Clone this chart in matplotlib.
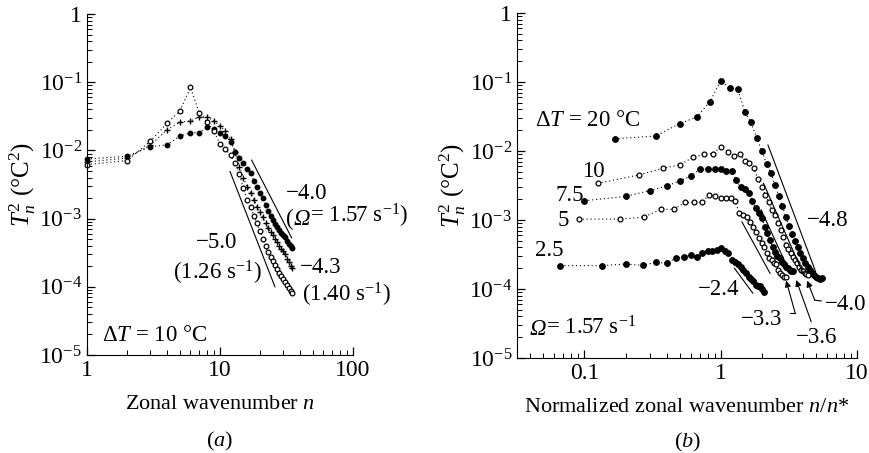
import matplotlib

matplotlib.use("Agg")
import matplotlib.pyplot as plt
import numpy as np
from matplotlib.ticker import LogLocator, NullFormatter

plt.rcParams["font.family"] = ["Liberation Serif", "DejaVu Serif"]
plt.rcParams["mathtext.fontset"] = "custom"
plt.rcParams["mathtext.rm"] = "Liberation Serif"
plt.rcParams["mathtext.it"] = "Liberation Serif:italic"
plt.rcParams["mathtext.bf"] = "Liberation Serif:bold"

# ---- panel (a): spectra vs zonal wavenumber, dT = 10 C ----
n_a = np.arange(1, 36)
a_omega157 = [0.0075, 0.0082, 0.0114, 0.012, 0.0163, 0.018, 0.0183, 0.022, 0.0205,
              0.018, 0.016, 0.0135, 0.0095, 0.0078, 0.0065, 0.0054, 0.0046, 0.0036,
              0.0029, 0.0024, 0.002, 0.0016, 0.0013, 0.0011, 0.00095, 0.00084,
              0.00076, 0.00069, 0.00062, 0.00057, 0.00053, 0.00047, 0.00043,
              0.0004, 0.00037]
a_omega140 = [0.0068, 0.0077, 0.012, 0.02, 0.026, 0.027, 0.031, 0.031, 0.027,
              0.0228, 0.019, 0.0146, 0.0095, 0.0058, 0.004, 0.0029, 0.0024, 0.0019,
              0.0015, 0.00126, 0.00105, 0.00085, 0.00073, 0.00064, 0.00057, 0.0005,
              0.00045, 0.0004, 0.00036, 0.00033, 0.0003, 0.00026, 0.00023, 0.0002,
              0.00019]
a_omega126 = [0.0062, 0.0071, 0.0137, 0.025, 0.038, 0.084, 0.035, 0.026, 0.019,
              0.0125, 0.0105, 0.0085, 0.0065, 0.0045, 0.0028, 0.0019, 0.0015, 0.0011,
              0.00085, 0.00065, 0.0005, 0.00039, 0.00032, 0.00027, 0.00024, 0.00021,
              0.00018, 0.00016, 0.000142, 0.00013, 0.000118, 0.000105, 0.000095,
              0.000087, 0.000082]

# fitted slope lines (x0, y0, x1, y1)
a_fit_lines = [(17.3, 7.2e-3, 34.6, 5.2e-4), (11.9, 4.9e-3, 25.9, 1.0e-4)]

# ---- panel (b): spectra vs normalized wavenumber, Omega = 1.57 ----
b_delta_t = ["20", "10", "7.5", "5", "2.5"]
b_n_star = [6, 8, 10, 11, 15]
b_filled = [True, False, True, False, True]
b_spectra = [
    [0.015, 0.0165, 0.025, 0.031, 0.052, 0.105, 0.081, 0.079, 0.037, 0.026, 0.0156,
     0.0101, 0.0065, 0.0048, 0.0032, 0.0022, 0.0016, 0.0011, 0.00082, 0.00062,
     0.00049, 0.0004, 0.00033, 0.00028, 0.00024, 0.00021, 0.00019, 0.00017,
     0.00016, 0.00015, 0.000145, 0.00014, 0.000142],
    [0.0034, 0.0045, 0.0056, 0.0063, 0.0081, 0.0089, 0.0092, 0.0114, 0.0098, 0.0085,
     0.009, 0.0072, 0.0068, 0.0056, 0.0039, 0.003, 0.0023, 0.0018, 0.0014, 0.0012,
     0.00089, 0.00072, 0.00057, 0.00043, 0.00038, 0.00033, 0.00029, 0.00026,
     0.000235, 0.00021, 0.00019, 0.00018, 0.00017, 0.000165, 0.00016],
    [0.0019, 0.0022, 0.00266, 0.0031, 0.0037, 0.0043, 0.0054, 0.0055, 0.0055, 0.0054,
     0.0052, 0.0051, 0.0038, 0.003, 0.0028, 0.0025, 0.0019, 0.0015, 0.00125,
     0.00106, 0.0008, 0.00064, 0.00051, 0.00041, 0.00034, 0.0003, 0.00028, 0.00025,
     0.00023, 0.00021, 0.0002, 0.00019, 0.00018, 0.00018],
    [0.00103, 0.00103, 0.0011, 0.00143, 0.00143, 0.0018, 0.0018, 0.0018, 0.0023,
     0.0022, 0.0021, 0.0021, 0.0021, 0.0019, 0.00128, 0.00118, 0.00109, 0.00095,
     0.0008, 0.00068, 0.00055, 0.00046, 0.00041, 0.00033, 0.00028, 0.00026,
     0.00024, 0.00023, 0.00019, 0.00017, 0.00016, 0.00015, 0.00015],
    [2.18e-4, 2.18e-4, 2.3e-4, 2.2e-4, 2.44e-4, 2.35e-4, 2.8e-4, 2.9e-4, 3.1e-4,
     2.95e-4, 3.3e-4, 3.5e-4, 3.6e-4, 3.7e-4, 3.9e-4, 3.6e-4, 3.3e-4, 2.6e-4,
     2.45e-4, 2.3e-4, 2.05e-4, 1.9e-4, 1.7e-4, 1.5e-4, 1.4e-4, 1.3e-4, 1.15e-4,
     1.12e-4, 1.1e-4, 1.0e-4, 9.1e-5],
]
b_fit_lines = [
    (2.22, 1.22e-2, 4.97, 1.78e-4),
    (2.06, 3.4e-3, 4.01, 1.69e-4),
    (1.98, 1.4e-3, 3.23, 1.69e-4),
    (1.43, 9.4e-4, 2.30, 1.69e-4),
    (1.26, 2.0e-4, 1.72, 8.7e-5),
]

Y_TICKS = [1e-5, 1e-4, 1e-3, 1e-2, 1e-1, 1]
Y_TICK_LABELS = [r"$10^{-5}$", r"$10^{-4}$", r"$10^{-3}$", r"$10^{-2}$",
                 r"$10^{-1}$", "1"]
DOTS = (0, (1, 2.5))
MINUS = "\u2212"
TXT = 16.5


def chained_text(ax, x, y, pieces):
    """Write text pieces side by side; pieces are (string, italic) pairs."""
    prev = None
    for s, italic in pieces:
        style = "italic" if italic else "normal"
        if prev is None:
            prev = ax.text(x, y, s, fontsize=TXT, fontstyle=style,
                           ha="left", va="center")
        else:
            prev = ax.annotate(s, xy=(1, 0), xycoords=prev, fontsize=TXT,
                               fontstyle=style, ha="left", va="bottom")
    return prev


def style_axes(ax):
    ax.set_yscale("log")
    ax.set_xscale("log")
    ax.set_ylim(1e-5, 1)
    ax.spines["top"].set_visible(False)
    ax.spines["right"].set_visible(False)
    ax.set_yticks(Y_TICKS)
    ax.set_yticklabels(Y_TICK_LABELS)
    ax.yaxis.set_minor_locator(LogLocator(subs=np.arange(2, 10), numticks=20))
    ax.xaxis.set_minor_locator(LogLocator(subs=np.arange(2, 10), numticks=20))
    ax.xaxis.set_minor_formatter(NullFormatter())
    ax.yaxis.set_minor_formatter(NullFormatter())
    ax.tick_params(which="major", direction="in", length=6, width=0.9,
                   labelsize=17, pad=3.5)
    ax.tick_params(which="minor", direction="in", length=3.5, width=0.7)
    ax.set_ylabel(r"$T_n^2$ ($\degree$C$^2$)", fontsize=18, labelpad=1)


def plot_panel_a(ax):
    ax.plot(n_a, a_omega157, linestyle=DOTS, color="k", lw=0.8, marker="o",
            ms=3.2, mfc="k", mec="k", clip_on=False)
    ax.plot(n_a, a_omega140, linestyle=DOTS, color="k", lw=0.8, marker="+",
            ms=4.5, mew=1.0, clip_on=False)
    ax.plot(n_a, a_omega126, linestyle=DOTS, color="k", lw=0.8, marker="o",
            ms=3.4, mfc="white", mec="k", mew=0.9, clip_on=False)
    for x0, y0, x1, y1 in a_fit_lines:
        ax.plot([x0, x1], [y0, y1], color="k", lw=0.8)

    ax.set_xlim(1, 100)
    ax.set_xticks([1, 10, 100])
    ax.set_xticklabels(["1", "10", "100"])
    ax.set_xlabel(r"Zonal wavenumber $n$", fontsize=16, labelpad=10)

    ax.text(31.3, 2.35e-3, MINUS + "4.0", fontsize=TXT, ha="left", va="center")
    chained_text(ax, 31.3, 0.97e-3,
                 [("(", False), ("\u03a9", True), (r"= 1.57 s$^{-1}$)", False)])
    ax.text(9.4, 4.4e-4, MINUS + "5.0", fontsize=TXT, ha="center", va="center")
    ax.text(9.5, 1.6e-4, r"(1.26 s$^{-1}$)", fontsize=TXT, ha="center",
            va="center")
    ax.text(39.9, 1.95e-4, MINUS + "4.3", fontsize=TXT, ha="left", va="center")
    ax.text(41.5, 7.6e-5, r"(1.40 s$^{-1}$)", fontsize=TXT, ha="left",
            va="center")
    ax.text(1.3, 1.96e-5, r"$\Delta T$ = 10 $\degree$C", fontsize=TXT,
            ha="left", va="center")
    ax.text(0.5, -0.255, r"$(a)$", transform=ax.transAxes, fontsize=16,
            ha="center", va="center")


def plot_panel_b(ax):
    for vals, n_star, filled in zip(b_spectra, b_n_star, b_filled):
        x = np.arange(1, len(vals) + 1) / n_star
        ax.plot(x, vals, linestyle=DOTS, color="k", lw=0.8, marker="o",
                ms=4.0 if filled else 3.5, mfc="k" if filled else "white",
                mec="k", mew=0.9)
    for x0, y0, x1, y1 in b_fit_lines:
        ax.plot([x0, x1], [y0, y1], color="k", lw=0.8)

    ax.set_xlim(0.032, 10)
    ax.set_xticks([0.1, 1, 10])
    ax.set_xticklabels(["0.1", "1", "10"])
    ax.set_xlabel(r"Normalized zonal wavenumber $n/n$*", fontsize=16,
                  labelpad=10)

    ax.text(0.0436, 0.0281, r"$\Delta T$ = 20 $\degree$C", fontsize=TXT,
            ha="left", va="center")
    label_pos = [None, (0.1165, 5.1e-3), (0.0776, 2.3e-3), (0.0701, 1.0e-3),
                 (0.0553, 3.56e-4)]
    for lab, pos in zip(b_delta_t, label_pos):
        if pos is not None:
            ax.text(pos[0], pos[1], lab, fontsize=TXT, ha="center", va="center")
    chained_text(ax, 0.0394, 2.6e-5,
                 [("\u03a9", True), (r"= 1.57 s$^{-1}$", False)])
    ax.text(0.967, 1.0e-4, MINUS + "2.4", fontsize=TXT, ha="center",
            va="center")
    ax.text(6.12, 1.0e-3, MINUS + "4.8", fontsize=TXT, ha="center", va="center")

    arrow = dict(arrowstyle="-|>", color="k", lw=0.8, mutation_scale=9,
                 shrinkA=0, shrinkB=0)
    # -3.3 arrow with small hook
    ax.annotate("", xy=(3.02, 1.32e-4), xytext=(3.52, 4.45e-5), arrowprops=arrow)
    ax.plot([3.2, 3.52], [4.45e-5, 4.45e-5], color="k", lw=0.8, clip_on=False)
    ax.text(2.0, 3.56e-5, MINUS + "3.3", fontsize=TXT, ha="center", va="center")
    # -3.6 arrow
    ax.annotate("", xy=(3.58, 1.35e-4), xytext=(4.61, 3.36e-5), arrowprops=arrow)
    ax.text(5.08, 2.0e-5, MINUS + "3.6", fontsize=TXT, ha="center", va="center")
    # -4.0 arrow with small hook
    ax.annotate("", xy=(4.31, 1.32e-4), xytext=(4.89, 6.9e-5), arrowprops=arrow)
    ax.plot([4.89, 5.46], [6.9e-5, 6.7e-5], color="k", lw=0.8, clip_on=False)
    ax.text(8.3, 5.9e-5, MINUS + "4.0", fontsize=TXT, ha="center", va="center")

    ax.text(0.5, -0.245, r"$(b)$", transform=ax.transAxes, fontsize=16,
            ha="center", va="center")


def main() -> None:
    fig = plt.figure(figsize=(8.7, 4.53), dpi=100)
    ax_a = fig.add_axes([0.100, 0.2163, 0.3057, 0.7528])
    ax_b = fig.add_axes([0.5943, 0.2097, 0.3908, 0.7616])
    for ax in (ax_a, ax_b):
        style_axes(ax)
    plot_panel_a(ax_a)
    plot_panel_b(ax_b)
    fig.savefig("out.png", dpi=100)
    plt.close(fig)


if __name__ == "__main__":
    main()
